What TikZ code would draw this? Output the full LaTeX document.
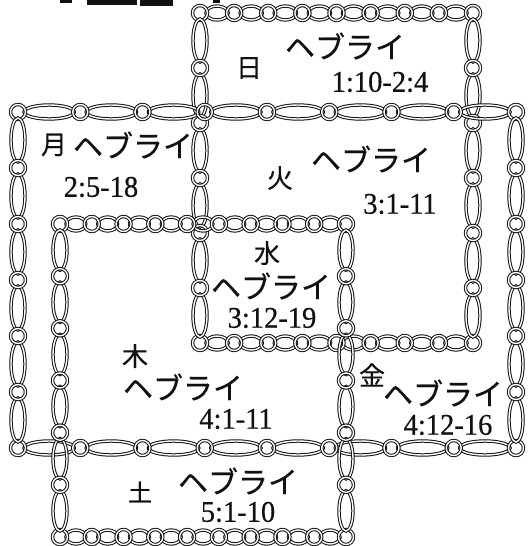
\documentclass[tikz,border=0pt]{standalone}
\usepackage{fontspec}
\newfontfamily\jafont[FakeBold=0.4]{Noto Sans CJK JP}
\newfontfamily\numfont[FakeStretch=0.95,FakeBold=0.5]{Liberation Serif}
\usetikzlibrary{positioning}
\definecolor{ink}{HTML}{111111}

% links along a horizontal side: y, x1, x2, number of links
\newcommand\chainrow[4]{%
  \pgfmathsetmacro\pitch{(#3-#2)/#4}
  \pgfmathsetmacro\rx{\pitch/2-6}
  \foreach \k in {1,...,#4}
    \draw[link] ({#2+(\k-.5)*\pitch},#1) ellipse [x radius=\rx pt, y radius=7pt];
  \foreach \k in {0,...,#4}
    \draw[link] ({#2+\k*\pitch},#1) circle [radius=7.5pt];
}
% links along a vertical side: x, y1, y2, number of links
\newcommand\chaincol[4]{%
  \pgfmathsetmacro\pitch{(#3-#2)/#4}
  \pgfmathsetmacro\ry{\pitch/2-6}
  \foreach \k in {1,...,#4}
    \draw[link] (#1,{#2+(\k-.5)*\pitch}) ellipse [x radius=7pt, y radius=\ry pt];
  \foreach \k in {1,...,\numexpr#4-1\relax}
    \draw[link] (#1,{#2+\k*\pitch}) circle [radius=7.5pt];
}
% whole frame: x1, y1, x2, y2, links across, links down
\newcommand\chainframe[6]{%
  \chainrow{#2}{#1}{#3}{#5}
  \chainrow{#4}{#1}{#3}{#5}
  \chaincol{#1}{#2}{#4}{#6}
  \chaincol{#3}{#2}{#4}{#6}
}

\begin{document}
\begin{tikzpicture}[x=1pt,y=-1pt,
    link/.style={ink,line width=1pt,double=white,double distance=1.4pt},
    kan/.style={ink,font=\jafont\fontsize{26}{26}\selectfont,inner sep=0pt},
    kata/.style={ink,font=\jafont\fontsize{30}{30}\selectfont,inner sep=0pt},
    vref/.style={ink,font=\numfont\fontsize{30}{30}\selectfont,inner sep=0pt}]
  \useasboundingbox (0,0) rectangle (532,546);
  \fill[white] (0,0) rectangle (532,546);

  % remains of a heading cut off at the top
  \fill[ink] (60,0) rectangle (72,3);
  \fill[ink] (87,0) rectangle (137,5);
  \fill[ink] (140,0) rectangle (173,6);
  \fill[ink] (213,0) rectangle (220,3);

  % the three frames
  \chainframe{200}{13}{473}{343}{8}{6}
  \chainframe{18}{112}{516}{448}{8}{6}
  \chainframe{60}{224}{346}{537}{9}{6}

  % labels
  \node[kan] (sun) at (249,68) {日};
  \node[kata] (sunh) at (345,46) {ヘブライ};
  \node[vref] (sunv) at (380,82) {1:10-2:4};

  \node[kan] (mon) at (54,145) {月};
  \node[kata] (monh) at (133,145) {ヘブライ};
  \node[vref] (monv) at (101,187) {2:5-18};

  \node[kan] (tue) at (280,178) {火};
  \node[kata] (tueh) at (371,159) {ヘブライ};
  \node[vref] (tuev) at (400,204) {3:1-11};

  \node[kan] (wed) at (267,253) {水};
  \node[kata] (wedh) at (271,286) {ヘブライ};
  \node[vref] (wedv) at (272,318) {3:12-19};

  \node[kan] (thu) at (135,356) {木};
  \node[kata] (thuh) at (183,387) {ヘブライ};
  \node[vref] (thuv) at (236,419) {4:1-11};

  \node[kan] (fri) at (372,375) {金};
  \node[kata] (frih) at (443,393) {ヘブライ};
  \node[vref] (friv) at (448,425) {4:12-16};

  \node[kan,font=\jafont\fontsize{24}{24}\selectfont] (sat) at (140,492) {土};
  \node[kata] (sath) at (238,481) {ヘブライ};
  \node[vref] (satv) at (238,512) {5:1-10};
\end{tikzpicture}
\end{document}
